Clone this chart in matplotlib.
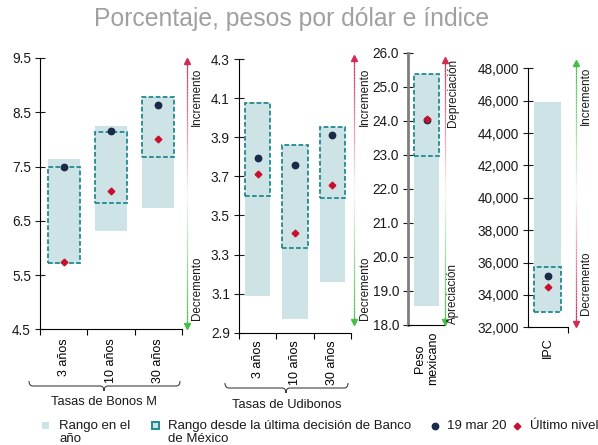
import numpy as np
import matplotlib.pyplot as plt
from matplotlib.collections import LineCollection
from matplotlib.lines import Line2D
from matplotlib.patches import Rectangle, PathPatch
from matplotlib.path import Path
from matplotlib.ticker import FuncFormatter, FormatStrFormatter

plt.rcParams['font.family'] = ['Liberation Sans', 'DejaVu Sans']

# datos
bonos_cats = ['3 años', '10 años', '30 años']
bonos_rango_min = [5.70, 6.31, 6.74]
bonos_rango_max = [7.64, 8.25, 8.79]
bonos_dec_min = [5.72, 6.83, 7.67]
bonos_dec_max = [7.50, 8.14, 8.79]
bonos_19mar = [7.49, 8.15, 8.64]
bonos_ultimo = [5.74, 7.05, 8.00]

udi_cats = ['3 años', '10 años', '30 años']
udi_rango_min = [3.09, 2.97, 3.16]
udi_rango_max = [4.08, 3.86, 3.95]
udi_dec_min = [3.60, 3.335, 3.59]
udi_dec_max = [4.075, 3.86, 3.95]
udi_19mar = [3.795, 3.76, 3.91]
udi_ultimo = [3.71, 3.41, 3.655]

peso_cats = ['Peso\nmexicano']
peso_rango_min = [18.57]
peso_rango_max = [25.37]
peso_dec_min = [22.96]
peso_dec_max = [25.37]
peso_19mar = [24.03]
peso_ultimo = [24.04]

ipc_cats = ['IPC']
ipc_rango_min = [32960]
ipc_rango_max = [45920]
ipc_dec_min = [32960]
ipc_dec_max = [35710]
ipc_19mar = [35170]
ipc_ultimo = [34490]

light = '#cde3e6'
teal = '#218a90'
navy = '#1b2a48'
crimson = '#c8102e'
red_arrow = '#cf2b55'
green_arrow = '#45bf45'

W, H = 598, 445
fig = plt.figure(figsize=(W / 100, H / 100), dpi=100)


def px_axes(l, r, t, b):
    return fig.add_axes([l / W, 1 - b / H, (r - l) / W, (b - t) / H])


def fx(x):
    return x / W


def fy(y):
    return 1 - y / H


def panel(ax, cats, rmin, rmax, dmin, dmax, p19, pult, ylim, step, fmt, pad, edge_ticks=True):
    x = np.arange(len(cats))
    rmin, rmax, dmin, dmax = map(np.array, (rmin, rmax, dmin, dmax))
    ax.bar(x, rmax - rmin, bottom=rmin, width=0.68, color=light, zorder=1)
    ax.bar(x, dmax - dmin, bottom=dmin, width=0.68, fill=False, edgecolor=teal,
           linestyle=(0, (2.6, 1.3)), linewidth=1.3, zorder=2)
    ax.plot(x, p19, 'o', color=navy, ms=4.6, zorder=3)
    ax.plot(x, pult, 'D', color=crimson, ms=3.4, zorder=4)
    ax.set_xlim(-0.5, len(cats) - 0.5)
    ax.set_ylim(*ylim)
    ax.set_yticks(np.arange(ylim[0], ylim[1] + step / 2, step))
    ax.yaxis.set_major_formatter(fmt)
    ax.set_xticks(x, cats, rotation=90, fontsize=9)
    ax.tick_params(axis='x', which='major', length=0, pad=pad)
    if edge_ticks:
        ax.set_xticks(np.arange(-0.5, len(cats)), minor=True)
        ax.tick_params(axis='x', which='minor', length=4, width=0.8, direction='out')
    ax.tick_params(axis='y', direction='inout', length=7, width=0.8, labelsize=9.8,
                   pad=3, colors='#1a1a1a')
    for s in ['top', 'right']:
        ax.spines[s].set_visible(False)
    ax.spines['left'].set_linewidth(0.8)
    ax.spines['bottom'].set_linewidth(0.8)
    ax.patch.set_alpha(0)


ax1 = px_axes(40, 182, 58, 329.3)
panel(ax1, bonos_cats, bonos_rango_min, bonos_rango_max, bonos_dec_min, bonos_dec_max,
      bonos_19mar, bonos_ultimo, (4.5, 9.5), 1.0, FormatStrFormatter('%.1f'), 6.5)

ax2 = px_axes(239, 351, 59, 332.7)
panel(ax2, udi_cats, udi_rango_min, udi_rango_max, udi_dec_min, udi_dec_max,
      udi_19mar, udi_ultimo, (2.9, 4.3), 0.2, FormatStrFormatter('%.1f'), 5.3)

ax3 = px_axes(408, 445, 52.7, 325)
panel(ax3, peso_cats, peso_rango_min, peso_rango_max, peso_dec_min, peso_dec_max,
      peso_19mar, peso_ultimo, (18, 26), 1.0, FormatStrFormatter('%.1f'), 5, edge_ticks=False)
ax3.spines['left'].set_color('#7f7f7f')
ax3.spines['left'].set_linewidth(2)

ax4 = px_axes(527.7, 567.7, 68.3, 327.3)
panel(ax4, ipc_cats, ipc_rango_min, ipc_rango_max, ipc_dec_min, ipc_dec_max,
      ipc_19mar, ipc_ultimo, (32000, 48000), 2000,
      FuncFormatter(lambda v, p: '{:,.0f}'.format(v)), 7)
ax4.set_xticks([0.5], minor=True)


# flechas con degradado
def arrow(x, ytop, ybot, ctop, cbot):
    ys = np.linspace(ytop + 3, ybot - 3, 90)
    segs = [[(fx(x), fy(ys[i])), (fx(x), fy(ys[i + 1]))] for i in range(len(ys) - 1)]
    ct = np.array(plt.matplotlib.colors.to_rgb(ctop))
    cb = np.array(plt.matplotlib.colors.to_rgb(cbot))
    wh = np.array([0.97, 0.97, 0.97])
    cols = []
    for t in np.linspace(0, 1, len(segs)):
        if t < 0.5:
            cols.append(ct + (wh - ct) * (t / 0.5))
        else:
            cols.append(wh + (cb - wh) * ((t - 0.5) / 0.5))
    lc = LineCollection(segs, colors=cols, linewidths=0.9, transform=fig.transFigure)
    fig.add_artist(lc)
    fig.add_artist(Line2D([fx(x)], [fy(ytop + 3)], marker='^', ms=5, color=ctop,
                          transform=fig.transFigure))
    fig.add_artist(Line2D([fx(x)], [fy(ybot - 3)], marker='v', ms=5, color=cbot,
                          transform=fig.transFigure))


arrow(187, 58, 329, red_arrow, green_arrow)
arrow(354, 55, 325, red_arrow, green_arrow)
arrow(445, 57, 325, red_arrow, green_arrow)
arrow(575.7, 60, 327, green_arrow, red_arrow)

side_labels = [
    (197, 97, 'Incremento'), (197, 288, 'Decremento'),
    (365, 97, 'Incremento'), (365, 288, 'Decremento'),
    (453, 93, 'Depreciación'), (453, 294, 'Apreciación'),
    (586, 96, 'Incremento'), (586, 283, 'Decremento'),
]
for x, y, s in side_labels:
    fig.text(fx(x), fy(y), s, rotation=90, ha='center', va='center', fontsize=8.4,
             color='#1a1a1a')


# llaves de agrupacion
def brace(x0, x1, xc, ytop, ymid, ybot):
    r = 4
    verts = [(x0, ytop), (x0, ymid), (x0 + r, ymid), (xc - r, ymid), (xc, ymid), (xc, ybot),
             (xc, ymid), (xc + r, ymid), (x1 - r, ymid), (x1, ymid), (x1, ytop)]
    codes = [Path.MOVETO, Path.CURVE3, Path.CURVE3, Path.LINETO, Path.CURVE3, Path.CURVE3,
             Path.CURVE3, Path.CURVE3, Path.LINETO, Path.CURVE3, Path.CURVE3]
    verts = [(fx(a), fy(b)) for a, b in verts]
    fig.add_artist(PathPatch(Path(verts, codes), fill=False, edgecolor='#404040', lw=0.8,
                             transform=fig.transFigure))


brace(29, 180, 104, 381, 386, 391)
brace(225, 348, 286, 383, 388, 393)
fig.text(fx(104), fy(402), 'Tasas de Bonos M', ha='center', va='center', fontsize=9.3,
         color='#1a1a1a')
fig.text(fx(287), fy(405), 'Tasas de Udibonos', ha='center', va='center', fontsize=9.3,
         color='#1a1a1a')

# titulo
fig.text(fx(292), fy(19), 'Porcentaje, pesos por dólar e índice', ha='center', va='center',
         fontsize=17.8, color='#a0a0a0')

# leyenda
fig.add_artist(Rectangle((fx(41.5), fy(429)), 7 / W, 7 / H, facecolor=light, edgecolor='none',
                         transform=fig.transFigure))
fig.add_artist(Rectangle((fx(151.5), fy(428.5)), 7 / W, 7 / H, facecolor=light, edgecolor=teal,
                         lw=1.4, transform=fig.transFigure))
fig.add_artist(Line2D([fx(435)], [fy(426)], marker='o', ms=4.6, color=navy,
                      transform=fig.transFigure))
fig.add_artist(Line2D([fx(517)], [fy(426)], marker='D', ms=3.4, color=crimson,
                      transform=fig.transFigure))
leg_kw = dict(ha='left', va='top', fontsize=9.5, linespacing=1.15, color='#1a1a1a')
fig.text(fx(59), fy(420), 'Rango en el\naño', **leg_kw)
fig.text(fx(168), fy(420), 'Rango desde la última decisión de Banco\nde México', **leg_kw)
fig.text(fx(447), fy(420), '19 mar 20', **leg_kw)
fig.text(fx(530), fy(420), 'Último nivel', **leg_kw)

fig.savefig('out.png', dpi=100)
